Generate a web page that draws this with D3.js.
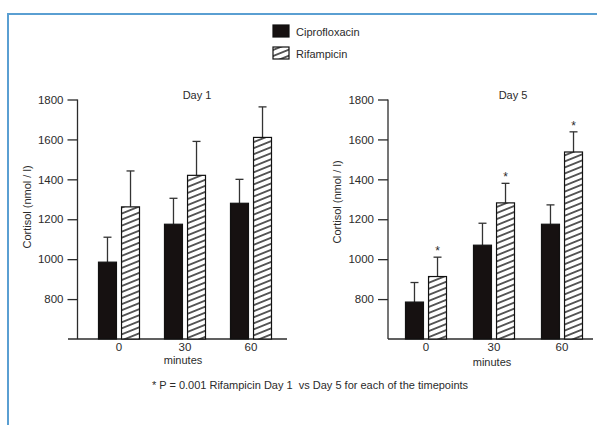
<!DOCTYPE html>
<html>
<head>
<meta charset="utf-8">
<script src="https://cdn.jsdelivr.net/npm/d3@7"></script>
<style>
  body { margin: 0; background: #fff; }
  text { font-family: "Liberation Sans", Arial, sans-serif; fill: #2b2b2b; }
</style>
</head>
<body>
<svg id="chart" width="597" height="425"></svg>
<script>
// data
const timepoints = ["0", "30", "60"];
const seriesNames = ["Ciprofloxacin", "Rifampicin"];
const yTicks = [800, 1000, 1200, 1400, 1600, 1800];

const day1Cipro = [985, 1175, 1280];
const day1CiproSd = [125, 130, 120];
const day1Rif = [1262, 1420, 1610];
const day1RifSd = [180, 170, 153];

const day5Cipro = [785, 1070, 1175];
const day5CiproSd = [98, 110, 97];
const day5Rif = [913, 1282, 1537];
const day5RifSd = [97, 98, 101];
const day5Sig = [true, true, true];

const footnote = "* P = 0.001 Rifampicin Day 1  vs Day 5 for each of the timepoints";

const svg = d3.select("#chart");
const defs = svg.append("defs");

defs.append("pattern")
  .attr("id", "hatch")
  .attr("patternUnits", "userSpaceOnUse")
  .attr("width", 10)
  .attr("height", 5.6)
  .attr("patternTransform", "rotate(-22)")
  .call(p => {
    p.append("rect").attr("width", 10).attr("height", 5.6).attr("fill", "#fff");
    p.append("path").attr("d", "M0,2.8 H10").attr("stroke", "#1a1a1a").attr("stroke-width", 1.4);
  });

// blue frame (top + left only)
svg.append("path")
  .attr("d", "M8,425 V14 H597")
  .attr("fill", "none")
  .attr("stroke", "#5a9fd2")
  .attr("stroke-width", 2);

const fills = ["#161111", "url(#hatch)"];

// legend
const legend = svg.append("g").attr("transform", "translate(273,25)");
seriesNames.forEach((name, i) => {
  const row = legend.append("g").attr("transform", `translate(0,${i * 22})`);
  row.append("rect")
    .attr("width", 16).attr("height", 12)
    .attr("fill", fills[i])
    .attr("stroke", "#111").attr("stroke-width", 1.2);
  row.append("text")
    .attr("x", 23).attr("y", 10.5)
    .style("font-size", "11px")
    .text(name);
});

const y = d3.scaleLinear().domain([600, 1800]).range([339, 99.5]);

const panels = [
  { title: "Day 1", values: [day1Cipro, day1Rif], sds: [day1CiproSd, day1RifSd], sig: null,
    xRange: [86, 284], axisX: 77.5, baseFrom: 68, baseTo: 287, titleX: 197, labelX: 27, labelY: 207, minutesY: 364 },
  { title: "Day 5", values: [day5Cipro, day5Rif], sds: [day5CiproSd, day5RifSd], sig: day5Sig,
    xRange: [392, 596], axisX: 388, baseFrom: 388, baseTo: 593, titleX: 513, labelX: 337, labelY: 202, minutesY: 366 }
];

panels.forEach(p => {
  const g = svg.append("g");

  const x = d3.scaleBand().domain(timepoints).range(p.xRange);
  const xSub = d3.scaleBand().domain(seriesNames).range([-20.5, 20.5]).paddingInner(0.22);

  // y axis
  const yAxis = g.append("g")
    .attr("transform", `translate(${p.axisX},0)`)
    .call(d3.axisLeft(y).tickValues(yTicks).tickFormat(d3.format("d"))
      .tickSize(10).tickPadding(4).tickSizeOuter(0));
  yAxis.select(".domain").remove();
  yAxis.selectAll(".tick line").attr("stroke", "#2b2b2b").attr("stroke-width", 1.3);
  yAxis.selectAll(".tick text").style("font-size", "11.5px").attr("fill", "#2b2b2b");
  g.append("line")
    .attr("x1", p.axisX).attr("x2", p.axisX)
    .attr("y1", y(1800)).attr("y2", y(600))
    .attr("stroke", "#2b2b2b").attr("stroke-width", 1.3);

  // baseline
  g.append("line")
    .attr("x1", p.baseFrom).attr("x2", p.baseTo)
    .attr("y1", y(600)).attr("y2", y(600))
    .attr("stroke", "#2b2b2b").attr("stroke-width", 1.3);

  // x tick labels
  const xAxis = g.append("g")
    .attr("transform", `translate(0,${y(600)})`)
    .call(d3.axisBottom(x).tickSize(0).tickPadding(4));
  xAxis.select(".domain").remove();
  xAxis.selectAll(".tick text").style("font-size", "11.5px").attr("fill", "#2b2b2b");

  g.append("text")
    .attr("x", x("30") + x.bandwidth() / 2 - 2)
    .attr("y", p.minutesY)
    .attr("text-anchor", "middle")
    .style("font-size", "11px")
    .text("minutes");

  g.append("text")
    .attr("x", p.titleX).attr("y", 99)
    .attr("text-anchor", "middle")
    .style("font-size", "11px")
    .text(p.title);

  g.append("text")
    .attr("transform", `translate(${p.labelX},${p.labelY}) rotate(-90)`)
    .attr("text-anchor", "middle")
    .attr("dy", "0.35em")
    .style("font-size", "11px")
    .text("Cortisol (nmol / l)");

  // bars
  seriesNames.forEach((name, si) => {
    timepoints.forEach((t, ti) => {
      const v = p.values[si][ti];
      const top = v + p.sds[si][ti];
      const bx = x(t) + x.bandwidth() / 2 + xSub(name);
      const cx = bx + xSub.bandwidth() / 2;

      g.append("line")
        .attr("x1", cx).attr("x2", cx)
        .attr("y1", y(v)).attr("y2", y(top))
        .attr("stroke", "#333").attr("stroke-width", 1.3);
      g.append("line")
        .attr("x1", cx - 4).attr("x2", cx + 4)
        .attr("y1", y(top)).attr("y2", y(top))
        .attr("stroke", "#333").attr("stroke-width", 1.3);

      g.append("rect")
        .attr("x", bx).attr("y", y(v))
        .attr("width", xSub.bandwidth())
        .attr("height", y(600) - y(v))
        .attr("fill", fills[si])
        .attr("stroke", "#111").attr("stroke-width", 1.2);

      if (p.sig && si === 1 && p.sig[ti]) {
        g.append("text")
          .attr("x", cx).attr("y", y(top) - 2)
          .attr("text-anchor", "middle")
          .style("font-size", "12px")
          .text("*");
      }
    });
  });
});

svg.append("text")
  .attr("x", 310).attr("y", 389)
  .attr("text-anchor", "middle")
  .style("font-size", "11px")
  .style("white-space", "pre")
  .text(footnote);
</script>
</body>
</html>
